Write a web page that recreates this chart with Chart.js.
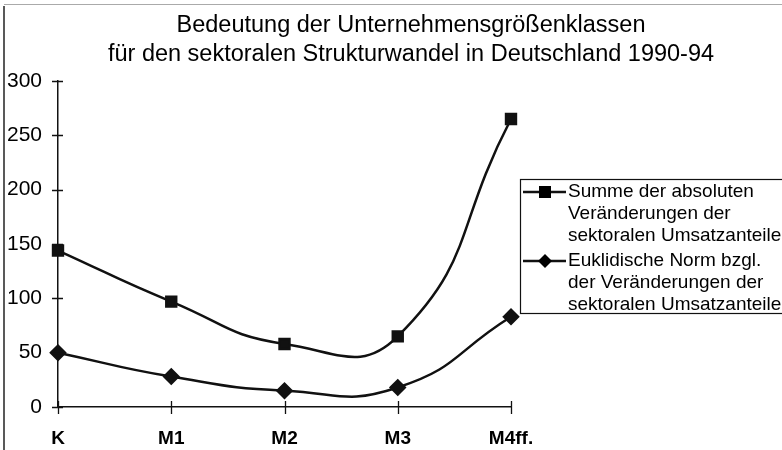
<!DOCTYPE html>
<html>
<head>
<meta charset="utf-8">
<script src="https://cdn.jsdelivr.net/npm/chart.js@4/dist/chart.umd.min.js"></script>
<style>
  html, body { margin: 0; padding: 0; background: #fff; }
  #wrap { width: 782px; height: 450px; }
</style>
</head>
<body>
<div id="wrap"><canvas id="strukturChart" width="782" height="450"></canvas></div>
<script>
// Kategorien (Unternehmensgrößenklassen)
const categories = ['K', 'M1', 'M2', 'M3', 'M4ff.'];

// Summe der absoluten Veränderungen der sektoralen Umsatzanteile
const summeValues = [144, 97, 58, 65, 265];

// Euklidische Norm bzgl. der Veränderungen der sektoralen Umsatzanteile
const normValues = [50, 28, 15, 18, 83];

const titleLines = [
    'Bedeutung der Unternehmensgrößenklassen',
    'für den sektoralen Strukturwandel in Deutschland 1990-94'
];

const legendLines = [
    ['Summe der absoluten', 'Veränderungen der', 'sektoralen Umsatzanteile'],
    ['Euklidische Norm bzgl.', 'der Veränderungen der', 'sektoralen Umsatzanteile']
];

const FONT = '"Liberation Sans", Arial, sans-serif';

// Rahmen, Titel und Legende
const frameTitleLegend = {
    id: 'frameTitleLegend',
    afterDraw(chart) {
        const ctx = chart.ctx;
        ctx.save();

        // Rahmen links / oben
        ctx.strokeStyle = '#222';
        ctx.lineWidth = 1.5;
        ctx.beginPath();
        ctx.moveTo(4, 6);
        ctx.lineTo(4, 450);
        ctx.stroke();
        ctx.strokeStyle = '#aaa';
        ctx.lineWidth = 1;
        ctx.beginPath();
        ctx.moveTo(4, 4.5);
        ctx.lineTo(782, 4.5);
        ctx.stroke();

        // Titel
        ctx.fillStyle = '#000';
        ctx.font = '23.5px ' + FONT;
        ctx.textAlign = 'center';
        ctx.textBaseline = 'alphabetic';
        ctx.fillText(titleLines[0], 411, 32);
        ctx.fillText(titleLines[1], 411, 61);

        // Legende
        ctx.strokeStyle = '#111';
        ctx.lineWidth = 1.2;
        ctx.strokeRect(520.5, 179.5, 270, 134);

        const rowY = [[192, 214, 236], [261, 283, 305]];
        const styles = ['rect', 'rectRot'];
        ctx.font = '19px ' + FONT;
        ctx.textAlign = 'left';
        ctx.textBaseline = 'middle';
        for (let i = 0; i < 2; i++) {
            const y = rowY[i][0];
            ctx.lineWidth = 2.5;
            ctx.beginPath();
            ctx.moveTo(523, y);
            ctx.lineTo(566, y);
            ctx.stroke();
            ctx.fillStyle = '#000';
            ctx.beginPath();
            if (styles[i] === 'rect') {
                ctx.rect(539, y - 6, 12, 12);
            } else {
                ctx.moveTo(545, y - 7);
                ctx.lineTo(552, y);
                ctx.lineTo(545, y + 7);
                ctx.lineTo(538, y);
                ctx.closePath();
            }
            ctx.fill();
            legendLines[i].forEach((line, j) => {
                ctx.fillText(line, 568, rowY[i][j]);
            });
        }

        // Teilstriche, die die Achsen kreuzen
        const xScale = chart.scales.x;
        const yScale = chart.scales.y;
        ctx.strokeStyle = '#111';
        ctx.lineWidth = 1.3;
        ctx.beginPath();
        yScale.ticks.forEach((t, i) => {
            const py = Math.round(yScale.getPixelForTick(i)) + 0.5;
            ctx.moveTo(xScale.left - 6, py);
            ctx.lineTo(xScale.left + 5, py);
        });
        xScale.ticks.forEach((t, i) => {
            const px = Math.round(xScale.getPixelForTick(i)) + 0.5;
            ctx.moveTo(px, yScale.bottom - 6);
            ctx.lineTo(px, yScale.bottom + 7);
        });
        ctx.stroke();

        ctx.restore();
    }
};

new Chart(document.getElementById('strukturChart'), {
    type: 'line',
    data: {
        labels: categories,
        datasets: [{
            label: 'Summe der absoluten Veränderungen der sektoralen Umsatzanteile',
            data: summeValues,
            borderColor: '#111',
            backgroundColor: '#111',
            borderWidth: 2.5,
            pointStyle: 'rect',
            pointRadius: 7,
            tension: 0.5
        }, {
            label: 'Euklidische Norm bzgl. der Veränderungen der sektoralen Umsatzanteile',
            data: normValues,
            borderColor: '#111',
            backgroundColor: '#111',
            borderWidth: 2.5,
            pointStyle: 'rectRot',
            pointRadius: 7,
            tension: 0.5
        }]
    },
    options: {
        responsive: false,
        animation: false,
        layout: {
            padding: { top: 81, right: 271, left: 0, bottom: 0 }
        },
        plugins: {
            legend: { display: false },
            title: { display: false },
            tooltip: { enabled: false }
        },
        scales: {
            x: {
                offset: false,
                grid: { display: false },
                border: { display: true, color: '#111', width: 1.5 },
                ticks: {
                    color: '#000',
                    padding: 12,
                    maxRotation: 0,
                    font: { family: FONT, size: 19, weight: 'bold' }
                },
                afterFit(scale) { scale.height = 43; }
            },
            y: {
                min: 0,
                max: 300,
                grid: { display: false },
                border: { display: true, color: '#111', width: 1.5 },
                ticks: {
                    stepSize: 50,
                    color: '#000',
                    padding: 8,
                    font: { family: FONT, size: 21 }
                },
                afterFit(scale) { scale.width = 58; }
            }
        }
    },
    plugins: [frameTitleLegend]
});
</script>
</body>
</html>
